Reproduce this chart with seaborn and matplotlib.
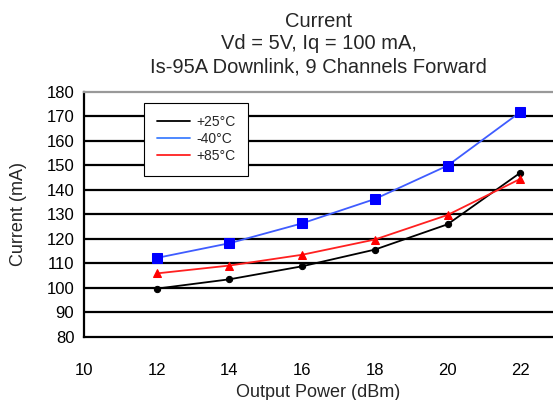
import matplotlib
matplotlib.use("Agg")
import matplotlib.pyplot as plt
from matplotlib.lines import Line2D
import seaborn as sns
import pandas as pd

power = [12, 14, 16, 18, 20, 22]
cur_25 = [99.7, 103.5, 108.8, 115.6, 125.9, 146.9]
cur_m40 = [112.2, 118.2, 126.3, 136.2, 149.8, 171.6]
cur_85 = [105.9, 109.1, 113.5, 119.7, 129.7, 144.4]
labels = ["+25°C", "-40°C", "+85°C"]
title_lines = ["Current", "Vd = 5V, Iq = 100 mA,", "Is-95A Downlink, 9 Channels Forward"]

sns.set_theme(style="white")
plt.rcParams["font.family"] = ["Liberation Sans", "DejaVu Sans"]

fig = plt.figure(figsize=(5.53, 4.0), dpi=100)
ax = fig.add_axes([84 / 553, 1 - 337 / 400, 1 - 84 / 553, (337 - 91.5) / 400])

series = [
    (cur_25, "black", "black", "o", 4.5),
    (cur_m40, "#3f5cff", "#0000ff", "s", 6.5),
    (cur_85, "#ff2020", "#ff0000", "^", 6),
]
for vals, lc, mc, mk, ms in series:
    df = pd.DataFrame({"x": power, "y": vals})
    sns.lineplot(data=df, x="x", y="y", ax=ax, color=lc, linewidth=1.3,
                 marker=mk, markersize=ms, markerfacecolor=mc,
                 markeredgecolor=mc, legend=False)

ax.set_xlim(10, 22.9)
ax.set_ylim(80, 180)
ax.set_xticks([10, 12, 14, 16, 18, 20, 22])
ax.set_yticks(list(range(80, 181, 10)))
ax.tick_params(axis="both", labelsize=12, length=4, width=1.5, color="black",
               direction="out", pad=3, colors="black")
ax.tick_params(axis="x", pad=15)
ax.yaxis.grid(True, color="black", linewidth=1.6)
ax.xaxis.grid(False)
gl = ax.yaxis.get_gridlines()
gl[0].set_visible(False)
gl[-1].set_visible(False)
ax.set_axisbelow(True)

for s in ["left", "bottom"]:
    ax.spines[s].set_color("black")
    ax.spines[s].set_linewidth(1.6)
ax.spines["top"].set_color("#999999")
ax.spines["top"].set_linewidth(1.6)
ax.spines["right"].set_visible(False)

ax.set_xlabel("Output Power (dBm)", fontsize=13, labelpad=4)
ax.set_ylabel("Current (mA)", fontsize=13, labelpad=14)
ax.set_title("\n".join(title_lines), fontsize=14.5, linespacing=1.25, pad=14)

handles = [Line2D([], [], color=c, linewidth=1.3) for c in ["black", "#3f7fff", "#ff2020"]]
leg = ax.legend(handles, labels, loc="upper left", bbox_to_anchor=(0.128, 0.955),
                fontsize=10, frameon=True, fancybox=False, edgecolor="black",
                framealpha=1, handlelength=2.4, handletextpad=0.45,
                labelspacing=0.22, borderpad=0.9, borderaxespad=0)
leg.get_frame().set_linewidth(0.8)

fig.savefig("out.png", dpi=100)
